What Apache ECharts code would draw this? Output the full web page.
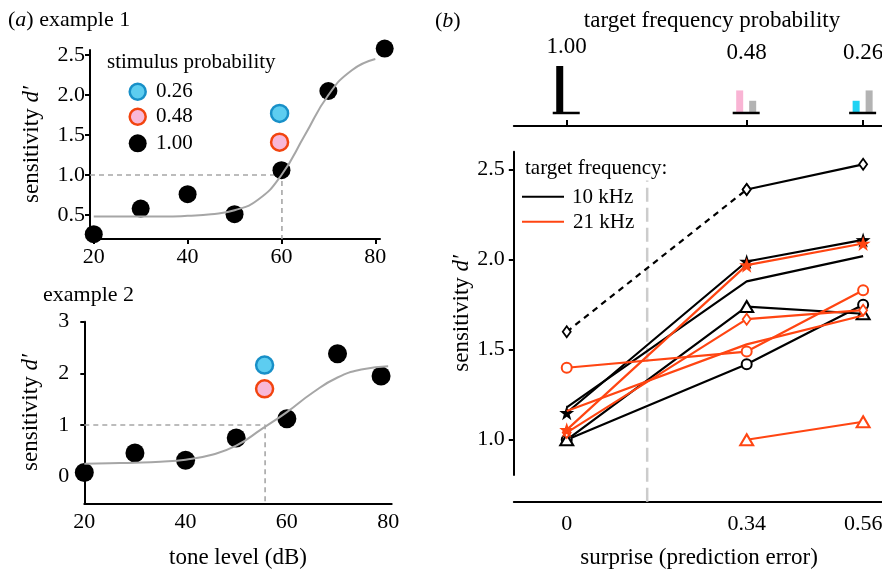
<!DOCTYPE html>
<html><head><meta charset="utf-8">
<script src="https://cdn.jsdelivr.net/npm/echarts@6/dist/echarts.min.js"></script>
<style>html,body{margin:0;padding:0;background:#fff}#c{width:882px;height:569px}</style>
</head><body><div id="c"></div>
<script>
// ================= DATA =================
// panel (a) example 1
const ex1Level   = [20, 30, 40, 50, 60, 70, 82];
const ex1Dprime  = [0.26, 0.58, 0.76, 0.51, 1.06, 2.05, 2.58];
const ex1Prob026 = [59.6, 1.77];
const ex1Prob048 = [59.6, 1.41];
const ex1Threshold = 60.1;
const ex1FitLevel  = [20, 25, 30, 35, 40, 45, 50, 55, 60, 65, 70, 75, 80];
const ex1FitDprime = [0.48, 0.48, 0.48, 0.48, 0.49, 0.51, 0.56, 0.69, 1.0, 1.5, 2.0, 2.31, 2.45];
// panel (a) example 2
const ex2Level   = [20, 30, 40, 50, 60, 70, 78.6];
const ex2Dprime  = [0.08, 0.46, 0.32, 0.75, 1.12, 2.38, 1.95];
const ex2Prob026 = [55.6, 2.16];
const ex2Prob048 = [55.6, 1.70];
const ex2Threshold = 55.7;
const ex2FitLevel  = [20, 25, 30, 35, 40, 45, 50, 55, 60, 65, 70, 75, 80];
const ex2FitDprime = [0.25, 0.26, 0.27, 0.29, 0.33, 0.42, 0.60, 0.92, 1.25, 1.62, 1.92, 2.08, 2.14];
// tick labels
const levelTicks = [20, 40, 60, 80];
const ex1YTicks  = [0.5, 1.0, 1.5, 2.0, 2.5];
const ex2YTicks  = [0, 1, 2, 3];
const legendProbs = ['0.26', '0.48', '1.00'];

// panel (b)
const surprise = [0, 0.34, 0.56];
const surpriseTickLabels = ['0', '0.34', '0.56'];
const bYTicks = [1.0, 1.5, 2.0, 2.5];
const surpriseBoundary = 0.152;
// 10 kHz (black)
const k10Diamond  = [1.60, 2.39, 2.53];   // first segment dashed
const k10Star     = [1.15, 1.99, 2.11];
const k10Plain    = [1.18, 1.88, 2.02];
const k10Triangle = [1.00, 1.74, 1.70];
const k10Circle   = [1.00, 1.42, 1.75];
// 21 kHz (orange)
const k21Star     = [1.055, 1.97, 2.09];
const k21Circle   = [1.40, 1.49, 1.83];
const k21Plain    = [1.16, 1.53, 1.69];
const k21Diamond  = [1.04, 1.67, 1.72];
const k21Triangle = [null, 1.00, 1.10];
// inset: target frequency probability
const probLabels   = ['1.00', '0.48', '0.26'];
const probExpected = [1.00, 0.48, 0.26];
const probOther    = [0, 0.26, 0.48];

// ================= STYLE =================
const FONT = '"Liberation Serif","Times New Roman",serif';
const BLACK = '#000000', ORANGE = '#ff4512', GRAY = '#a6a6a6';
const BLUE_FILL = '#5dcdf0', BLUE_EDGE = '#1890c8', PINK_FILL = '#f8b8d8', PINK_EDGE = '#f2440f';
const insetColors = ['#000000', '#f9b4d4', '#1ed2f3'];
const insetGray = '#b3b3b3';
const insetLabelDy = [-19, -13, -13];
const STAR = 'path://M50,0 L61.8,35.1 L98.9,35.5 L69.1,57.6 L80.2,93 L50,71.5 L19.8,93 L30.9,57.6 L1.1,35.5 L38.2,35.1 Z';

const zip = (a, b) => a.map((v, i) => [v, b[i]]);
const ySens = { rich: { i: { fontStyle: 'italic', fontFamily: FONT, fontSize: 23, color: BLACK } } };

function ax(o) {
  return Object.assign({
    type: 'value', splitLine: { show: false },
    axisLine: { show: true, onZero: false, lineStyle: { color: BLACK, width: 2 } },
    axisTick: { show: true, length: 5, lineStyle: { color: BLACK, width: 2 } },
    axisLabel: { color: BLACK, fontFamily: FONT, fontSize: 22 },
    nameTextStyle: Object.assign({ color: BLACK, fontFamily: FONT, fontSize: 23 }, ySens)
  }, o);
}

const chart = echarts.init(document.getElementById('c'), null, { renderer: 'canvas' });

const dotStyle = { color: BLACK, opacity: 1 };
const blueStyle = { color: BLUE_FILL, borderColor: BLUE_EDGE, borderWidth: 2.5, opacity: 1 };
const pinkStyle = { color: PINK_FILL, borderColor: PINK_EDGE, borderWidth: 2.5, opacity: 1 };

const series = [];
// ---------- example 1 ----------
series.push({ type: 'scatter', xAxisIndex: 0, yAxisIndex: 0, data: zip(ex1Level, ex1Dprime), symbolSize: 18, itemStyle: dotStyle, clip: false, z: 2 });
series.push({ type: 'scatter', xAxisIndex: 0, yAxisIndex: 0, data: [ex1Prob026], symbolSize: 17, itemStyle: blueStyle, z: 2 });
series.push({ type: 'scatter', xAxisIndex: 0, yAxisIndex: 0, data: [ex1Prob048], symbolSize: 17, itemStyle: pinkStyle, z: 2 });
series.push({ type: 'line', xAxisIndex: 0, yAxisIndex: 0, data: [[19.2, 1], [ex1Threshold, 1], [ex1Threshold, 0.2]], symbol: 'none', lineStyle: { color: GRAY, width: 1.6, type: [5, 4] }, z: 1 });
series.push({ type: 'line', xAxisIndex: 0, yAxisIndex: 0, data: zip(ex1FitLevel, ex1FitDprime), smooth: 0.5, symbol: 'none', lineStyle: { color: GRAY, width: 2 }, z: 3 });
// ---------- example 2 ----------
series.push({ type: 'scatter', xAxisIndex: 1, yAxisIndex: 1, data: zip(ex2Level, ex2Dprime), symbolSize: 19, itemStyle: dotStyle, clip: false, z: 2 });
series.push({ type: 'scatter', xAxisIndex: 1, yAxisIndex: 1, data: [ex2Prob026], symbolSize: 17, itemStyle: blueStyle, z: 2 });
series.push({ type: 'scatter', xAxisIndex: 1, yAxisIndex: 1, data: [ex2Prob048], symbolSize: 17, itemStyle: pinkStyle, z: 2 });
series.push({ type: 'line', xAxisIndex: 1, yAxisIndex: 1, data: [[20, 1], [ex2Threshold, 1], [ex2Threshold, -0.515]], symbol: 'none', lineStyle: { color: GRAY, width: 1.6, type: [5, 4] }, z: 1 });
series.push({ type: 'line', xAxisIndex: 1, yAxisIndex: 1, data: zip(ex2FitLevel, ex2FitDprime), smooth: 0.5, symbol: 'none', lineStyle: { color: GRAY, width: 2 }, z: 3 });

// ---------- panel b ----------
series.push({ type: 'line', xAxisIndex: 2, yAxisIndex: 2, data: [[surpriseBoundary, 0.656], [surpriseBoundary, 2.44]], symbol: 'none', lineStyle: { color: '#cccccc', width: 2.5, type: [14, 6] }, z: 1 });

function markerStyle(kind, c) {
  if (kind === 'diamond') return { symbol: 'diamond', symbolSize: [8, 11], itemStyle: { color: '#fff', borderColor: c, borderWidth: 1.8 } };
  if (kind === 'star') return { symbol: STAR, symbolSize: 15, itemStyle: { color: c, borderColor: c, borderWidth: 0 } };
  if (kind === 'circle') return { symbol: 'circle', symbolSize: 10, itemStyle: { color: '#fff', borderColor: c, borderWidth: 2 } };
  if (kind === 'triangle') return { symbol: 'triangle', symbolSize: [13, 11], itemStyle: { color: '#fff', borderColor: c, borderWidth: 2 } };
  return { symbol: 'none', itemStyle: { color: c } };
}
function bLine(vals, kind, c, z, dashed) {
  return Object.assign({
    type: 'line', xAxisIndex: 2, yAxisIndex: 2, z: z,
    data: surprise.map((x, i) => [x, vals[i]]).filter(d => d[1] !== null && d[1] !== undefined),
    showSymbol: true, lineStyle: { color: c, width: 2.2, type: dashed ? [6, 5] : 'solid' }
  }, markerStyle(kind, c));
}
// black diamond: dashed first segment, solid second
series.push(bLine([k10Diamond[0], k10Diamond[1], null], 'diamond', BLACK, 4, true));
series.push(bLine([null, k10Diamond[1], k10Diamond[2]], 'diamond', BLACK, 4, false));
series.push(bLine(k10Plain, 'none', BLACK, 4));
series.push(bLine(k10Circle, 'circle', BLACK, 4));
series.push(bLine(k10Triangle, 'triangle', BLACK, 4));
series.push(bLine(k10Star, 'star', BLACK, 4));
series.push(bLine(k21Plain, 'none', ORANGE, 5));
series.push(bLine(k21Circle, 'circle', ORANGE, 5));
series.push(bLine(k21Diamond, 'diamond', ORANGE, 5));
series.push(bLine(k21Triangle, 'triangle', ORANGE, 5));
series.push(bLine(k21Star, 'star', ORANGE, 5));

// inset bars
series.push({
  type: 'custom', xAxisIndex: 4, yAxisIndex: 4, clip: false,
  data: surprise.map((x, i) => [x, probExpected[i], probOther[i], i]),
  renderItem: function (params, api) {
    const x = api.value(0), v1 = api.value(1), v2 = api.value(2), i = api.value(3);
    const base = api.coord([x, 0]);
    const t1 = api.coord([x, v1]);
    const t2 = api.coord([x, v2]);
    const top = api.coord([x, 1]);
    const ch = [];
    ch.push({ type: 'rect', shape: { x: base[0] - 10.5, y: t1[1], width: 7, height: base[1] - t1[1] }, style: { fill: insetColors[i] } });
    if (v2 > 0) ch.push({ type: 'rect', shape: { x: base[0] + 2.5, y: t2[1], width: 7, height: base[1] - t2[1] }, style: { fill: insetGray } });
    ch.push({ type: 'line', shape: { x1: base[0] - 14, y1: base[1], x2: base[0] + 13, y2: base[1] }, style: { stroke: BLACK, lineWidth: 2.5 } });
    ch.push({ type: 'text', x: base[0], y: top[1] + insetLabelDy[i], style: { text: probLabels[i], fill: BLACK, font: '23px ' + FONT, align: 'center', verticalAlign: 'middle' } });
    return { type: 'group', children: ch };
  }
});

const G = { outerBoundsMode: 'none', containLabel: false };
const option = {
  animation: false,
  backgroundColor: '#fff',
  grid: [
    Object.assign({ left: 90, top: 50, width: 290, height: 189 }, G),
    Object.assign({ left: 84.3, top: 321.7, width: 307.4, height: 181.6 }, G),
    Object.assign({ left: 513.8, top: 151.7, width: 370.5, height: 350 }, G),
    Object.assign({ left: 513.8, top: 151.7, width: 370.5, height: 323.3 }, G),
    Object.assign({ left: 513.8, top: 66, width: 370.5, height: 60 }, G)
  ],
  xAxis: [
    ax({ gridIndex: 0, min: 19.2, max: 81,
         axisTick: { show: true, length: 5, customValues: levelTicks, lineStyle: { color: BLACK, width: 2 } },
         axisLabel: { color: BLACK, fontFamily: FONT, fontSize: 22, margin: 7, customValues: levelTicks } }),
    ax({ gridIndex: 1, min: 20, max: 80.7, name: 'tone level (dB)', nameLocation: 'middle', nameGap: 43,
         nameTextStyle: { color: BLACK, fontFamily: FONT, fontSize: 23 },
         axisTick: { show: false },
         axisLabel: { color: BLACK, fontFamily: FONT, fontSize: 22, margin: 8, customValues: levelTicks } }),
    ax({ gridIndex: 2, min: -0.1, max: 0.6, name: 'surprise (prediction error)', nameLocation: 'middle', nameGap: 45,
         nameTextStyle: { color: BLACK, fontFamily: FONT, fontSize: 23 },
         axisTick: { show: false },
         axisLabel: { color: BLACK, fontFamily: FONT, fontSize: 22, margin: 12, customValues: surprise,
                      formatter: v => surpriseTickLabels[surprise.indexOf(v)] } }),
    ax({ gridIndex: 3, min: -0.1, max: 0.6, show: false }),
    ax({ gridIndex: 4, min: -0.1, max: 0.6,
         axisTick: { show: true, inside: true, length: 6, customValues: surprise, lineStyle: { color: BLACK, width: 2 } },
         axisLabel: { show: false } })
  ],
  yAxis: [
    ax({ gridIndex: 0, min: 0.2, max: 2.5625, name: 'sensitivity {i|d′}', nameLocation: 'middle', nameGap: 47,
         axisTick: { show: true, length: 5, customValues: ex1YTicks, lineStyle: { color: BLACK, width: 2 } },
         axisLabel: { color: BLACK, fontFamily: FONT, fontSize: 22, margin: 5, customValues: ex1YTicks, formatter: v => v.toFixed(1) } }),
    ax({ gridIndex: 1, min: -0.515, max: 3, name: 'sensitivity {i|d′}', nameLocation: 'middle', nameGap: 42,
         axisTick: { show: true, length: 4, customValues: ex2YTicks, lineStyle: { color: BLACK, width: 2 } },
         axisLabel: { color: BLACK, fontFamily: FONT, fontSize: 22, margin: 15, customValues: ex2YTicks } }),
    ax({ gridIndex: 2, min: 0.656, max: 2.6, show: false }),
    ax({ gridIndex: 3, min: 0.804, max: 2.6, name: 'sensitivity {i|d′}', nameLocation: 'middle', nameGap: 38,
         axisTick: { show: true, length: 5, customValues: bYTicks, lineStyle: { color: BLACK, width: 2 } },
         axisLabel: { color: BLACK, fontFamily: FONT, fontSize: 22, margin: 9, customValues: bYTicks, formatter: v => v.toFixed(1) } }),
    ax({ gridIndex: 4, min: -0.277, max: 1.0, show: false })
  ],
  series: series,
  graphic: [
    { type: 'text', left: 8, top: 9, style: { text: '({i|a}) example 1', fill: BLACK, font: '22px ' + FONT, rich: { i: { fontStyle: 'italic', fontFamily: FONT, fontSize: 22 } } } },
    { type: 'text', left: 43, top: 284, style: { text: 'example 2', fill: BLACK, font: '22px ' + FONT } },
    { type: 'text', left: 107, top: 52, style: { text: 'stimulus probability', fill: BLACK, font: '21px ' + FONT } },
    { type: 'circle', shape: { cx: 137.7, cy: 91.7, r: 8 }, style: { fill: BLUE_FILL, stroke: BLUE_EDGE, lineWidth: 2.5 } },
    { type: 'circle', shape: { cx: 137.7, cy: 116.7, r: 8 }, style: { fill: PINK_FILL, stroke: PINK_EDGE, lineWidth: 2.5 } },
    { type: 'circle', shape: { cx: 137.7, cy: 143.3, r: 9 }, style: { fill: BLACK } },
    { type: 'text', x: 156, y: 91, style: { text: legendProbs[0], fill: BLACK, font: '21px ' + FONT, verticalAlign: 'middle' } },
    { type: 'text', x: 156, y: 116, style: { text: legendProbs[1], fill: BLACK, font: '21px ' + FONT, verticalAlign: 'middle' } },
    { type: 'text', x: 156, y: 143, style: { text: legendProbs[2], fill: BLACK, font: '21px ' + FONT, verticalAlign: 'middle' } },
    { type: 'text', x: 435, y: 21, style: { text: '({i|b})', fill: BLACK, font: '22px ' + FONT, verticalAlign: 'middle', rich: { i: { fontStyle: 'italic', fontFamily: FONT, fontSize: 22 } } } },
    { type: 'text', x: 712, y: 21, style: { text: 'target frequency probability', fill: BLACK, font: '23px ' + FONT, align: 'center', verticalAlign: 'middle' } },
    { type: 'text', x: 525, y: 168, style: { text: 'target frequency:', fill: BLACK, font: '21px ' + FONT, verticalAlign: 'middle' } },
    { type: 'line', shape: { x1: 522, y1: 196.7, x2: 564, y2: 196.7 }, style: { stroke: BLACK, lineWidth: 2 } },
    { type: 'line', shape: { x1: 522, y1: 221.7, x2: 564, y2: 221.7 }, style: { stroke: ORANGE, lineWidth: 2 } },
    { type: 'text', x: 572, y: 197, style: { text: '10 kHz', fill: BLACK, font: '21px ' + FONT, verticalAlign: 'middle' } },
    { type: 'text', x: 573, y: 222, style: { text: '21 kHz', fill: BLACK, font: '21px ' + FONT, verticalAlign: 'middle' } }
  ]
};
chart.setOption(option);
</script></body></html>
